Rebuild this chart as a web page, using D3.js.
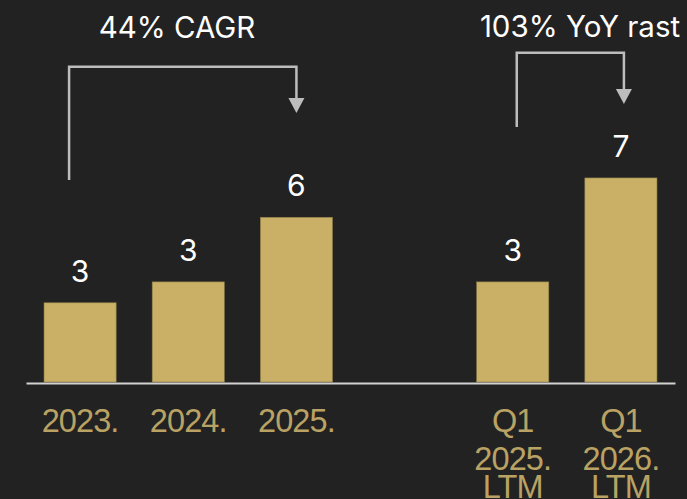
<!DOCTYPE html>
<html>
<head>
<meta charset="utf-8">
<script src="https://cdn.jsdelivr.net/npm/d3@7"></script>
<style>
  html, body {
    margin: 0;
    padding: 0;
    background: #222222;
  }
  #chart {
    display: block;
  }
  .value-label {
    fill: #ffffff;
    font-family: Inter, "Open Sans", sans-serif;
    font-size: 30px;
    text-anchor: middle;
  }
  .note-label {
    fill: #ffffff;
    font-family: Inter, "Open Sans", sans-serif;
    font-size: 29.5px;
    text-anchor: middle;
  }
  .cat-label {
    fill: #b9a264;
    font-family: "Liberation Sans", Arial, sans-serif;
    font-size: 32.5px;
    letter-spacing: -0.9px;
    text-anchor: middle;
  }
  .bracket {
    fill: none;
    stroke: #bdbdbd;
    stroke-width: 2.5px;
  }
</style>
</head>
<body>
<svg id="chart" width="687" height="499"></svg>
<script>
// categories ("" is the empty slot between the yearly and LTM groups)
const categories = ["2023.", "2024.", "2025.", "", "Q1 2025. LTM", "Q1 2026. LTM"];
const categoryLines = [["2023."], ["2024."], ["2025."], [], ["Q1", "2025.", "LTM"], ["Q1", "2026.", "LTM"]];
const values = [2.88, 3.64, 5.99, null, 3.64, 7.42];
const valueLabels = ["3", "3", "6", "", "3", "7"];

// growth annotations
const noteFrom = ["2023.", "Q1 2025. LTM"];
const noteTo = ["2025.", "Q1 2026. LTM"];
const noteText = ["44% CAGR", "103% YoY rast"];

const svg = d3.select("#chart");

const x = d3
  .scaleBand()
  .domain(categories)
  .range([26, 675])
  .paddingInner(1 / 3)
  .paddingOuter(1 / 6);

const y = d3.scaleLinear().domain([0, 10]).range([382, 107]);

const bars = categories
  .map((c, i) => ({ cat: c, value: values[i], label: valueLabels[i] }))
  .filter((d) => d.value != null);

//=== bars ===
svg
  .append("g")
  .selectAll("rect")
  .data(bars)
  .join("rect")
  .attr("x", (d) => x(d.cat))
  .attr("y", (d) => y(d.value))
  .attr("width", x.bandwidth())
  .attr("height", (d) => y(0) - y(d.value))
  .attr("fill", "#c9b066")
  .attr("stroke", "#8f7d48")
  .attr("stroke-width", 0.6);

//=== value labels ===
svg
  .append("g")
  .selectAll("text")
  .data(bars)
  .join("text")
  .attr("class", "value-label")
  .attr("x", (d) => x(d.cat) + x.bandwidth() / 2)
  .attr("y", (d) => y(d.value) - 21)
  .text((d) => d.label);

//=== baseline axis ===
const axis = svg
  .append("g")
  .attr("transform", `translate(0,${y(0)})`)
  .call(d3.axisBottom(x).tickSize(0).tickFormat(""));
axis
  .select(".domain")
  .attr("stroke", "#d2d2d2")
  .attr("stroke-width", 2.2)
  .attr("transform", "translate(0,1)");

//=== category labels ===
const lineBase = [432, 469.5, 497.5];
svg
  .append("g")
  .selectAll("text")
  .data(categories.map((c, i) => ({ cat: c, lines: categoryLines[i] })))
  .join("text")
  .attr("class", "cat-label")
  .selectAll("tspan")
  .data((d) => d.lines.map((l, j) => ({ text: l, x: x(d.cat) + x.bandwidth() / 2, j })))
  .join("tspan")
  .attr("x", (d) => d.x)
  .attr("y", (d) => lineBase[d.j])
  .text((d) => d.text);

//=== growth brackets ===
const bracketTop = [66.7, 52.7];
const bracketStart = [180, 127];
const startShift = [-11, 4];
const endShift = [0, 3];
const arrowTip = [113, 104];
const noteX = [177, 580];
const noteY = [38.3, 36.7];

noteText.forEach((t, i) => {
  const x0 = x(noteFrom[i]) + x.bandwidth() / 2 + startShift[i];
  const x1 = x(noteTo[i]) + x.bandwidth() / 2 + endShift[i];
  const tip = arrowTip[i];

  svg
    .append("path")
    .attr("class", "bracket")
    .attr("d", `M${x0},${bracketStart[i]} V${bracketTop[i]} H${x1} V${tip - 14}`);

  svg
    .append("path")
    .attr("d", `M${x1 - 8},${tip - 15} L${x1 + 8},${tip - 15} L${x1},${tip} Z`)
    .attr("fill", "#bdbdbd");

  svg
    .append("text")
    .attr("class", "note-label")
    .attr("x", noteX[i])
    .attr("y", noteY[i])
    .text(t);
});
</script>
</body>
</html>
